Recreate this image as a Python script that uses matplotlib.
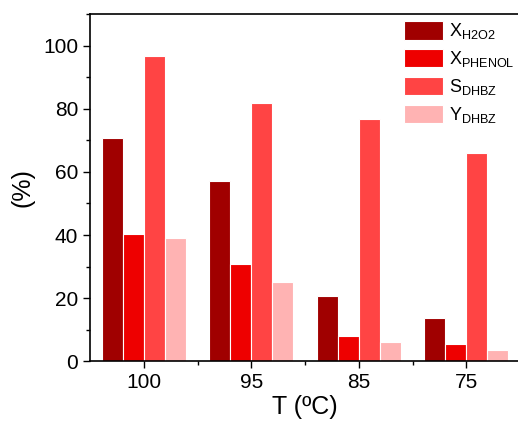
import numpy as np
import matplotlib.pyplot as plt
from matplotlib import rc
from matplotlib.ticker import MultipleLocator, FixedLocator

rc('mathtext', default='regular')
plt.rcParams['font.family'] = ['Liberation Sans', 'DejaVu Sans']

temps = ['100', '95', '85', '75']
x_h2o2 = [70.7, 57.1, 20.6, 13.8]
x_phenol = [40.3, 30.8, 7.9, 5.4]
s_dhbz = [96.8, 81.8, 76.8, 66.0]
y_dhbz = [39.0, 25.1, 6.0, 3.5]

labels = [r'X$_{H2O2}$', r'X$_{PHENOL}$', r'S$_{DHBZ}$', r'Y$_{DHBZ}$']
colors = ['#a00000', '#ee0000', '#ff4444', '#ffb3b3']

fig = plt.figure(figsize=(5.18, 4.33), dpi=100)
ax = fig.add_axes([0.174, 0.166, 0.83, 0.801])

x = np.arange(len(temps))
w = 0.195
series = [x_h2o2, x_phenol, s_dhbz, y_dhbz]
for i, (vals, lab, col) in enumerate(zip(series, labels, colors)):
    ax.bar(x + (i - 1.5) * w, vals, w, color=col, edgecolor='white',
           linewidth=0.8, label=lab)

ax.set_xlim(-0.5, 3.5)
ax.set_ylim(0, 110)
ax.set_xticks(x)
ax.set_xticklabels(temps)
ax.xaxis.set_minor_locator(FixedLocator([0.5, 1.5, 2.5]))
ax.yaxis.set_major_locator(MultipleLocator(20))
ax.yaxis.set_minor_locator(MultipleLocator(10))
ax.tick_params(which='major', length=5, width=1, labelsize=15)
ax.tick_params(which='minor', length=3, width=1)
for s in ax.spines.values():
    s.set_linewidth(1.2)

ax.set_xlabel('T (ºC)', fontsize=18, labelpad=2)
ax.set_ylabel('(%)', fontsize=18, labelpad=6)

ax.legend(loc='upper left', bbox_to_anchor=(404 / 518, 1 - 21 / 433),
          bbox_transform=fig.transFigure, frameon=False, borderpad=0,
          borderaxespad=0, fontsize=13, handlelength=2.15, handleheight=1.2,
          labelspacing=0.42, handletextpad=0.35)

fig.savefig('out.png', dpi=100)
